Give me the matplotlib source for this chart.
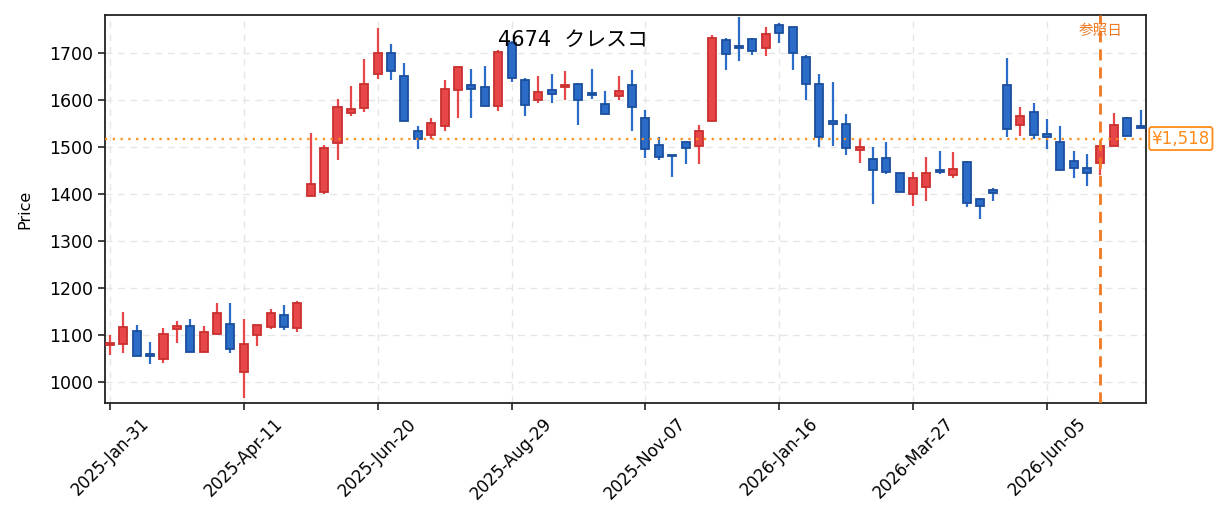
import matplotlib
matplotlib.use("Agg")
import matplotlib.pyplot as plt
import matplotlib.dates as mdates
import numpy as np
import pandas as pd

plt.rcParams['font.family'] = ['DejaVu Sans', 'Noto Sans CJK JP']

title = "4674  クレスコ"
ref_label = "参照日"
ref_price = 1518
ref_index = 74
start_date = "2025-01-31"

opens = [1078, 1081, 1109, 1060, 1048, 1113, 1118, 1064, 1102, 1123,
         1021, 1100, 1117, 1142, 1114, 1396, 1404, 1508, 1572, 1582,
         1655, 1700, 1652, 1535, 1525, 1545, 1621, 1633, 1628, 1587,
         1722, 1642, 1599, 1622, 1628, 1635, 1616, 1592, 1609, 1631,
         1562, 1505, 1484, 1510, 1502, 1555, 1727, 1714, 1729, 1710,
         1760, 1755, 1691, 1635, 1556, 1550, 1494, 1475, 1477, 1445,
         1399, 1415, 1450, 1440, 1469, 1390, 1408, 1631, 1547, 1575,
         1528, 1511, 1471, 1456, 1465, 1503, 1561, 1545]
closes = [1082, 1116, 1055, 1056, 1101, 1118, 1064, 1106, 1146, 1070,
          1080, 1120, 1147, 1117, 1167, 1421, 1498, 1586, 1581, 1635,
          1700, 1662, 1555, 1517, 1552, 1623, 1671, 1623, 1587, 1703,
          1646, 1589, 1618, 1613, 1633, 1599, 1611, 1570, 1620, 1585,
          1496, 1479, 1480, 1498, 1535, 1733, 1698, 1711, 1704, 1740,
          1743, 1701, 1634, 1521, 1550, 1498, 1500, 1451, 1447, 1404,
          1434, 1445, 1447, 1454, 1381, 1374, 1401, 1538, 1567, 1525,
          1522, 1452, 1455, 1445, 1503, 1546, 1523, 1541]
highs = [1100, 1149, 1121, 1084, 1115, 1130, 1134, 1119, 1168, 1168,
         1134, 1122, 1155, 1164, 1172, 1529, 1504, 1603, 1630, 1687,
         1754, 1719, 1679, 1544, 1562, 1643, 1672, 1667, 1672, 1706,
         1725, 1646, 1651, 1655, 1662, 1636, 1666, 1619, 1651, 1664,
         1579, 1521, 1484, 1512, 1547, 1738, 1731, 1776, 1731, 1755,
         1763, 1756, 1696, 1655, 1638, 1570, 1518, 1500, 1511, 1445,
         1447, 1479, 1491, 1489, 1470, 1392, 1412, 1689, 1585, 1594,
         1560, 1545, 1491, 1486, 1505, 1572, 1563, 1579]
lows = [1057, 1061, 1055, 1037, 1041, 1082, 1064, 1064, 1100, 1061,
        966, 1077, 1113, 1111, 1107, 1395, 1400, 1473, 1567, 1575,
        1645, 1643, 1555, 1495, 1518, 1533, 1562, 1562, 1587, 1577,
        1639, 1567, 1594, 1594, 1599, 1547, 1603, 1570, 1599, 1533,
        1477, 1472, 1437, 1464, 1464, 1555, 1663, 1684, 1695, 1693,
        1722, 1663, 1601, 1499, 1503, 1483, 1465, 1379, 1443, 1404,
        1375, 1386, 1443, 1433, 1373, 1347, 1384, 1522, 1524, 1516,
        1496, 1450, 1435, 1418, 1440, 1503, 1523, 1540]

dates = pd.date_range(start_date, periods=len(opens), freq="7D")
x = mdates.date2num(dates.to_pydatetime())

up_face, up_edge = "#e8474a", "#c8302f"
dn_face, dn_edge = "#2a6cc8", "#1b4f9e"

fig = plt.figure(figsize=(12.25, 5.32), dpi=100)
ax = fig.add_axes([0.0857, 0.2425, 0.9355 - 0.0857, 0.9718 - 0.2425])

width = 4.2
for xi, o, c, h, l in zip(x, opens, closes, highs, lows):
    up = c >= o
    face = up_face if up else dn_face
    edge = up_edge if up else dn_edge
    ax.vlines(xi, l, h, color=face, linewidth=1.6, zorder=2)
    bottom = min(o, c)
    height = max(abs(c - o), 1.5)
    ax.bar(xi, height, width=width, bottom=bottom, color=face,
           edgecolor=edge, linewidth=1.3, zorder=3)

ax.axhline(ref_price, color="#ff8c1a", linestyle=(0, (1, 2.5)), linewidth=1.6, zorder=4)
ax.axvline(x[ref_index], color="#f07820", linestyle=(0, (4, 2.5)), linewidth=2.0, zorder=4)

ax.set_xlim(x[0] - 2.6, x[-1] + 2.8)
ax.set_ylim(955, 1781)
ax.set_yticks(np.arange(1000, 1701, 100))
ax.set_xticks(x[::10])
ax.set_xticklabels([d.strftime("%Y-%b-%d") for d in dates[::10]], rotation=45, ha="center")
ax.tick_params(axis="both", labelsize=12, length=5, width=1.2, color="#222222")
ax.tick_params(axis="y", labelsize=12.5)
ax.set_ylabel("Price", fontsize=11.5, labelpad=12)

ax.grid(True, linestyle=(0, (5, 4)), color="#e6e6e6", linewidth=1.0, zorder=0)
ax.set_axisbelow(True)
for sp in ax.spines.values():
    sp.set_linewidth(1.3)
    sp.set_color("#222222")

ax.text(0.45, 0.935, title, transform=ax.transAxes, ha="center", va="center",
        fontsize=15, zorder=6)
ax.text(x[ref_index], 1732, ref_label, color="#f07820", ha="center", va="bottom",
        fontsize=10.5, zorder=6)
ax.text(1.0055, ref_price, "¥1,518", transform=ax.get_yaxis_transform(),
        color="#ff8c1a", ha="left", va="center", fontsize=12, zorder=6,
        bbox=dict(boxstyle="round,pad=0.15", facecolor="white", edgecolor="#ff8c1a", linewidth=1.3),
        clip_on=False)

fig.savefig("out.png", dpi=100)
